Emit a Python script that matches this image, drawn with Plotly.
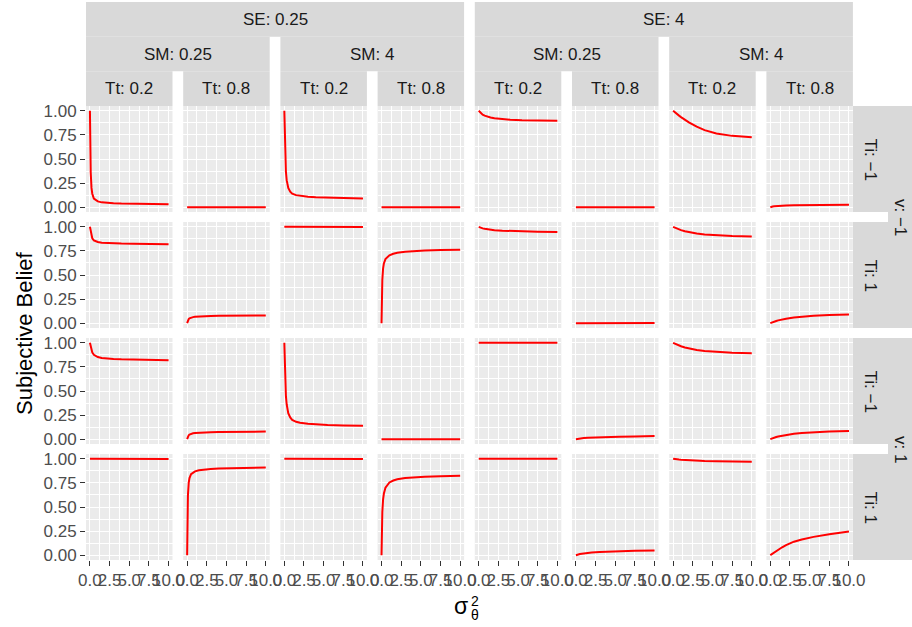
import plotly.graph_objects as go
from plotly.subplots import make_subplots

# ---------------- data ----------------
se_levels = ["0.25", "4"]
sm_levels = ["0.25", "4"]
tt_levels = ["0.2", "0.8"]
v_levels = ["\u22121", "1"]
ti_levels = ["\u22121", "1"]

sigma_theta_sq = [0, 0.05, 0.1, 0.2, 0.3, 0.5, 0.75, 1, 1.5, 2, 3, 4, 5.5, 7.5, 10]

x_tick_vals = [0, 2.5, 5, 7.5, 10]
x_tick_text = ["0.0", "2.5", "5.0", "7.5", "10.0"]
y_tick_vals = [0, 0.25, 0.5, 0.75, 1]
y_tick_text = ["0.00", "0.25", "0.50", "0.75", "1.00"]

# columns: (SE, SM, Tt) = (.25,.25,.2) (.25,.25,.8) (.25,4,.2) (.25,4,.8) (4,.25,.2) (4,.25,.8) (4,4,.2) (4,4,.8)
belief_v_m1_ti_m1 = [
    [1.0, 0.55, 0.36, 0.2, 0.14, 0.09, 0.07, 0.06, 0.05, 0.045, 0.04, 0.037, 0.034, 0.032, 0.03],
    [0.0, 0.0, 0.0, 0.0, 0.0, 0.0, 0.0, 0.0, 0.0, 0.0, 0.0, 0.0, 0.0, 0.0, 0.0],
    [1.0, 0.75, 0.56, 0.37, 0.28, 0.2, 0.16, 0.14, 0.125, 0.117, 0.108, 0.103, 0.098, 0.094, 0.09],
    [0.0, 0.0, 0.0, 0.0, 0.0, 0.0, 0.0, 0.0, 0.0, 0.0, 0.0, 0.0, 0.0, 0.0, 0.0],
    [1.0, 0.995, 0.99, 0.98, 0.972, 0.96, 0.95, 0.942, 0.93, 0.922, 0.913, 0.908, 0.903, 0.899, 0.896],
    [0.0, 0.0, 0.0, 0.0, 0.0, 0.0, 0.0, 0.0, 0.0, 0.0, 0.0, 0.0, 0.0, 0.0, 0.0],
    [1.0, 0.996, 0.992, 0.985, 0.978, 0.965, 0.95, 0.935, 0.905, 0.88, 0.835, 0.8, 0.765, 0.74, 0.725],
    [0.0, 0.002, 0.003, 0.005, 0.007, 0.009, 0.011, 0.013, 0.015, 0.017, 0.019, 0.021, 0.023, 0.024, 0.025],
]
belief_v_m1_ti_1 = [
    [1.0, 0.975, 0.95, 0.905, 0.88, 0.86, 0.848, 0.842, 0.835, 0.832, 0.828, 0.826, 0.824, 0.822, 0.82],
    [0.0, 0.02, 0.03, 0.042, 0.05, 0.058, 0.063, 0.066, 0.07, 0.072, 0.075, 0.077, 0.079, 0.08, 0.081],
    [1.0, 1.0, 1.0, 1.0, 1.0, 0.999, 0.999, 0.999, 0.999, 0.998, 0.998, 0.998, 0.998, 0.998, 0.998],
    [0.0, 0.3, 0.45, 0.57, 0.62, 0.665, 0.69, 0.705, 0.72, 0.73, 0.74, 0.748, 0.754, 0.759, 0.762],
    [1.0, 0.998, 0.996, 0.992, 0.989, 0.984, 0.979, 0.975, 0.969, 0.965, 0.96, 0.956, 0.952, 0.949, 0.946],
    [0.0, 0.0, 0.0, 0.0, 0.001, 0.001, 0.001, 0.001, 0.001, 0.001, 0.001, 0.001, 0.001, 0.001, 0.001],
    [1.0, 0.998, 0.996, 0.992, 0.988, 0.981, 0.973, 0.966, 0.954, 0.945, 0.93, 0.92, 0.911, 0.904, 0.9],
    [0.0, 0.002, 0.004, 0.008, 0.011, 0.017, 0.023, 0.029, 0.039, 0.047, 0.059, 0.068, 0.077, 0.085, 0.09],
]
belief_v_1_ti_m1 = [
    [1.0, 0.98, 0.96, 0.925, 0.9, 0.875, 0.86, 0.852, 0.843, 0.838, 0.833, 0.829, 0.826, 0.823, 0.82],
    [0.0, 0.02, 0.03, 0.041, 0.048, 0.056, 0.061, 0.064, 0.068, 0.07, 0.073, 0.075, 0.077, 0.078, 0.079],
    [1.0, 0.8, 0.64, 0.45, 0.36, 0.27, 0.225, 0.2, 0.18, 0.17, 0.16, 0.153, 0.147, 0.143, 0.14],
    [0.0, 0.0, 0.0, 0.0, 0.0, 0.0, 0.0, 0.0, 0.0, 0.0, 0.0, 0.0, 0.0, 0.0, 0.0],
    [1.0, 1.0, 1.0, 1.0, 1.0, 1.0, 1.0, 1.0, 1.0, 1.0, 1.0, 1.0, 1.0, 1.0, 1.0],
    [0.0, 0.001, 0.002, 0.004, 0.005, 0.007, 0.009, 0.011, 0.014, 0.016, 0.02, 0.023, 0.026, 0.029, 0.032],
    [1.0, 0.998, 0.996, 0.992, 0.988, 0.98, 0.972, 0.964, 0.952, 0.942, 0.926, 0.915, 0.905, 0.897, 0.892],
    [0.0, 0.002, 0.004, 0.007, 0.01, 0.016, 0.022, 0.028, 0.037, 0.045, 0.056, 0.064, 0.073, 0.08, 0.085],
]
belief_v_1_ti_1 = [
    [1.0, 1.0, 1.0, 1.0, 1.0, 0.999, 0.999, 0.999, 0.999, 0.999, 0.999, 0.999, 0.999, 0.999, 0.999],
    [0.0, 0.45, 0.62, 0.75, 0.8, 0.84, 0.86, 0.87, 0.882, 0.888, 0.895, 0.899, 0.903, 0.907, 0.91],
    [1.0, 1.0, 1.0, 1.0, 0.999, 0.999, 0.999, 0.998, 0.998, 0.998, 0.998, 0.998, 0.998, 0.998, 0.998],
    [0.0, 0.3, 0.45, 0.58, 0.64, 0.7, 0.735, 0.755, 0.775, 0.787, 0.8, 0.807, 0.814, 0.82, 0.825],
    [1.0, 1.0, 1.0, 1.0, 1.0, 1.0, 1.0, 1.0, 1.0, 1.0, 1.0, 1.0, 1.0, 1.0, 1.0],
    [0.0, 0.002, 0.004, 0.007, 0.009, 0.013, 0.016, 0.019, 0.024, 0.028, 0.033, 0.037, 0.041, 0.045, 0.048],
    [1.0, 0.999, 0.998, 0.997, 0.996, 0.994, 0.992, 0.99, 0.987, 0.984, 0.98, 0.977, 0.974, 0.972, 0.97],
    [0.0, 0.003, 0.006, 0.012, 0.018, 0.03, 0.043, 0.056, 0.082, 0.105, 0.14, 0.163, 0.19, 0.218, 0.245],
]
rows_data = [belief_v_m1_ti_m1, belief_v_m1_ti_1, belief_v_1_ti_m1, belief_v_1_ti_1]

# ---------------- layout geometry (pixels) ----------------
W, H = 912, 627
col_left = [86 + 97.2 * i for i in range(8)]
panel_w = 86.5
row_top = [106, 222, 338, 454]
panel_h = 106
strip_top = [2, 36.7, 71.3, 106]
ti_strip = (853, 888)
v_strip = (888, 912)

FONT = "Liberation Sans, Arial, sans-serif"
STRIP_BG = "#D9D9D9"
STRIP_TXT = "#1A1A1A"

def px(x):
    return x / W

def py(y):
    return 1 - y / H

fig = make_subplots(rows=4, cols=8)

for r in range(4):
    for c in range(8):
        fig.add_trace(go.Scatter(x=sigma_theta_sq, y=rows_data[r][c], mode="lines",
                                 line=dict(color="#FF0000", width=2), showlegend=False,
                                 hoverinfo="skip"), row=r + 1, col=c + 1)
        L = col_left[c]
        T = row_top[r]
        fig.update_xaxes(domain=[px(L), px(L + panel_w)], range=[-0.5, 10.5],
                         tickmode="array", tickvals=x_tick_vals, ticktext=x_tick_text,
                         showgrid=True, gridcolor="white", gridwidth=1.4,
                         minor=dict(tickmode="array", tickvals=[1.25, 3.75, 6.25, 8.75],
                                    showgrid=True, gridcolor="white", gridwidth=0.7, ticks=""),
                         zeroline=False, showline=False, automargin=False,
                         showticklabels=(r == 3), ticks="outside" if r == 3 else "",
                         ticklen=5, tickwidth=1.3, tickcolor="#333333", tickangle=0,
                         tickfont=dict(family=FONT, size=17, color="#4D4D4D"),
                         row=r + 1, col=c + 1)
        fig.update_yaxes(domain=[py(T + panel_h), py(T)], range=[-0.05, 1.05],
                         tickmode="array", tickvals=y_tick_vals, ticktext=y_tick_text,
                         showgrid=True, gridcolor="white", gridwidth=1.4,
                         minor=dict(tickmode="array", tickvals=[0.125, 0.375, 0.625, 0.875],
                                    showgrid=True, gridcolor="white", gridwidth=0.7, ticks=""),
                         zeroline=False, showline=False, automargin=False,
                         showticklabels=(c == 0), ticks="outside" if c == 0 else "",
                         ticklen=5, tickwidth=1.3, tickcolor="#333333",
                         tickfont=dict(family=FONT, size=17, color="#4D4D4D"),
                         row=r + 1, col=c + 1)

shapes = []
annotations = []

def rect(x0, x1, y0, y1):
    shapes.append(dict(type="rect", xref="paper", yref="paper",
                       x0=px(x0), x1=px(x1), y0=py(y1), y1=py(y0),
                       fillcolor=STRIP_BG, line=dict(width=0), layer="below"))

def label(text, x, y, size=17, angle=0, color=STRIP_TXT):
    annotations.append(dict(text=text, x=px(x), y=py(y), xref="paper", yref="paper",
                            showarrow=False, xanchor="center", yanchor="middle",
                            textangle=angle, font=dict(family=FONT, size=size, color=color)))

# top strips: SE
for i, se in enumerate(se_levels):
    x0 = col_left[4 * i]
    x1 = col_left[4 * i + 3] + panel_w
    rect(x0, x1, strip_top[0], strip_top[1])
    label("SE: " + se, (x0 + x1) / 2, (strip_top[0] + strip_top[1]) / 2)
# SM
for i in range(4):
    x0 = col_left[2 * i]
    x1 = col_left[2 * i + 1] + panel_w
    rect(x0, x1, strip_top[1], strip_top[2])
    label("SM: " + sm_levels[i % 2], (x0 + x1) / 2, (strip_top[1] + strip_top[2]) / 2)
# Tt
for c in range(8):
    x0 = col_left[c]
    x1 = x0 + panel_w
    rect(x0, x1, strip_top[2], strip_top[3])
    label("Tt: " + tt_levels[c % 2], (x0 + x1) / 2, (strip_top[2] + strip_top[3]) / 2)

# right strips: Ti
for r in range(4):
    y0 = row_top[r]
    y1 = y0 + panel_h
    rect(ti_strip[0], ti_strip[1], y0, y1)
    label("Ti: " + ti_levels[r % 2], (ti_strip[0] + ti_strip[1]) / 2, (y0 + y1) / 2, angle=90)
# v
for i, v in enumerate(v_levels):
    y0 = row_top[2 * i]
    y1 = row_top[2 * i + 1] + panel_h
    rect(v_strip[0], v_strip[1], y0, y1)
    label("v: " + v, (v_strip[0] + v_strip[1]) / 2 + 1, (y0 + y1) / 2, angle=90)

# axis titles
label("Subjective Belief", 24, (row_top[0] + row_top[3] + panel_h) / 2, size=22, angle=-90, color="black")
label("\u03c3", 461, 606, size=23, color="black")
label("2", 475, 601, size=14, color="black")
label("\u03b8", 475, 615, size=14, color="black")

fig.update_layout(width=W, height=H, autosize=False,
                  margin=dict(l=0, r=0, t=0, b=0, pad=0, autoexpand=False),
                  plot_bgcolor="#EBEBEB", paper_bgcolor="white",
                  showlegend=False, shapes=shapes, annotations=annotations,
                  font=dict(family=FONT))

fig.write_html("out.html", config={"displayModeBar": False},
               post_script="document.body.style.margin='0px';")
